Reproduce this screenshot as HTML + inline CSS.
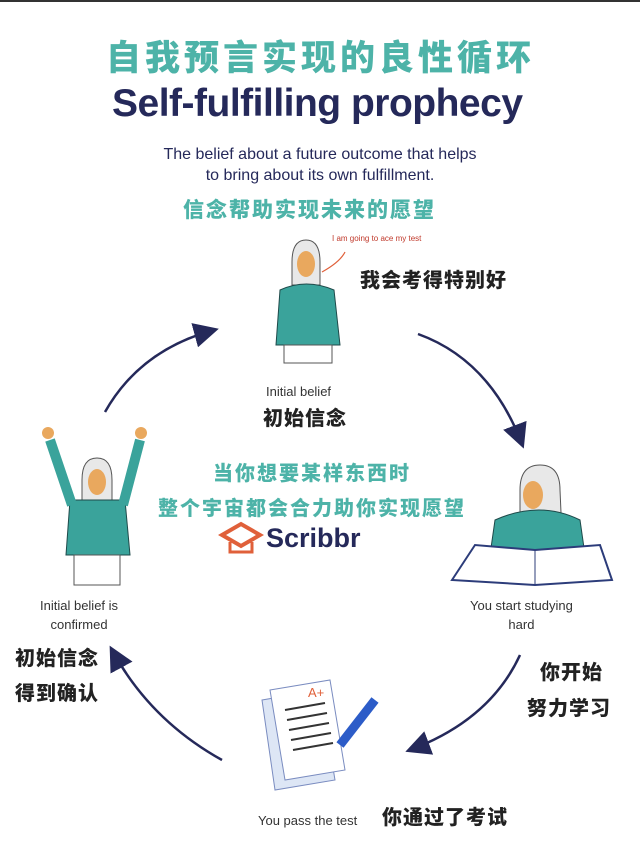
<!DOCTYPE html>
<html><head><meta charset="utf-8"><style>
body{margin:0;width:640px;height:844px;background:#fff;position:relative;overflow:hidden;font-family:"Liberation Sans","Noto Sans CJK SC",sans-serif}
.t{position:absolute;white-space:nowrap}
.cn{font-family:"Liberation Sans","Noto Sans CJK SC",sans-serif;font-weight:900}
.teal{color:#4db3a8}
.dk{color:#222}
.nv{color:#25295a}
.sm{font-size:13px;color:#333;text-align:center}
</style></head><body>
<div style="position:absolute;left:0;top:0;width:640px;height:2px;background:#333"></div>
<div class="t cn teal" style="left:106px;top:30px;font-size:35px;letter-spacing:4px">自我预言实现的良性循环</div>
<div class="t nv" style="left:112px;top:82px;font-size:39px;font-weight:bold;letter-spacing:-0.5px">Self-fulfilling prophecy</div>
<div class="t nv" style="left:0;width:640px;text-align:center;top:144px;font-size:16px;line-height:21px">The belief about a future outcome that helps<br>to bring about its own fulfillment.</div>
<div class="t cn teal" style="left:183px;top:194px;font-size:21px;letter-spacing:2px">信念帮助实现未来的愿望</div>

<svg width="640" height="844" style="position:absolute;left:0;top:0">
<defs><marker id="a" markerWidth="10" markerHeight="10" refX="8" refY="5" orient="auto"><path d="M0,0 L10,5 L0,10 z" fill="#25295a"/></marker></defs>
<g fill="none" stroke="#25295a" stroke-width="2.5" marker-end="url(#a)">
<path d="M105,412 Q140,350 214,330"/>
<path d="M418,334 Q490,360 522,444"/>
<path d="M520,655 Q490,720 410,750"/>
<path d="M222,760 Q150,720 112,650"/>
</g>
<path d="M322,272 Q340,262 345,252" stroke="#e0603a" fill="none" stroke-width="1.2"/>
<path d="M292,262 Q292,240 306,240 Q320,240 320,262 L320,285 L292,285z" fill="#e8e8e8" stroke="#555"/>
<ellipse cx="306" cy="264" rx="9" ry="13" fill="#e9a85e"/>
<path d="M280,290 Q306,278 334,290 L340,345 L276,345z" fill="#3aa39b" stroke="#1f4a4a"/>
<rect x="284" y="345" width="48" height="18" fill="#fff" stroke="#555"/>
<path d="M82,480 Q82,458 97,458 Q112,458 112,480 L112,500 L82,500z" fill="#e8e8e8" stroke="#555"/>
<ellipse cx="97" cy="482" rx="9" ry="13" fill="#e9a85e"/>
<path d="M70,500 L125,500 L130,555 L66,555z" fill="#3aa39b" stroke="#1f4a4a"/>
<path d="M72,505 L50,440 M123,505 L140,440" stroke="#3aa39b" stroke-width="10"/>
<circle cx="48" cy="433" r="6" fill="#e9a85e"/><circle cx="141" cy="433" r="6" fill="#e9a85e"/>
<rect x="74" y="555" width="46" height="30" fill="#fff" stroke="#555"/>
<path d="M520,490 Q520,465 540,465 Q560,465 560,490 L562,535 L520,530z" fill="#e8e8e8" stroke="#555"/>
<ellipse cx="533" cy="495" rx="10" ry="14" fill="#e9a85e"/>
<path d="M495,520 Q540,500 580,520 L585,555 L490,555z" fill="#3aa39b" stroke="#1f4a4a"/>
<path d="M452,580 L475,545 L535,550 L600,545 L612,580 L535,585z" fill="#fff" stroke="#2c3c7a" stroke-width="2"/>
<path d="M535,550 L535,585" stroke="#2c3c7a"/>
<path d="M262,700 L320,690 L335,780 L275,790z" fill="#dde6f5" stroke="#7a8cc0"/>
<path d="M270,690 L330,680 L345,770 L285,780z" fill="#fff" stroke="#7a8cc0"/>
<g stroke="#333" stroke-width="2"><path d="M285,710 L325,703 M287,720 L327,713 M289,730 L329,723 M291,740 L331,733 M293,750 L333,743"/></g>
<text x="308" y="697" fill="#e0603a" font-size="13" font-family="Liberation Sans">A+</text>
<path d="M340,745 L375,700" stroke="#2c5cc8" stroke-width="9"/>
<path d="M222,535 L241,524 L260,535 L241,546z" fill="none" stroke="#e0603a" stroke-width="4"/>
<path d="M230,542 L230,552 L252,552 L252,542" fill="none" stroke="#e0603a" stroke-width="3"/>
</svg>
<div class="t" style="left:332px;top:234px;font-size:8px;color:#c0392b">I am going to ace my test</div>
<div class="t cn dk" style="left:360px;top:264px;font-size:20px;letter-spacing:1px">我会考得特别好</div>
<div class="t sm" style="left:266px;top:384px">Initial belief</div>
<div class="t cn dk" style="left:263px;top:402px;font-size:20px;letter-spacing:1px">初始信念</div>
<div class="t cn teal" style="left:213px;top:457px;font-size:20px;letter-spacing:2px">当你想要某样东西时</div>
<div class="t cn teal" style="left:158px;top:492px;font-size:20px;letter-spacing:2px">整个宇宙都会合力助你实现愿望</div>
<div class="t nv" style="left:266px;top:523px;font-size:27px;font-weight:bold">Scribbr</div>
<div class="t sm" style="left:40px;top:596px;line-height:19px">Initial belief is<br>confirmed</div>
<div class="t cn dk" style="left:15px;top:642px;font-size:20px;line-height:35px;letter-spacing:1px">初始信念<br>得到确认</div>
<div class="t sm" style="left:470px;top:596px;line-height:19px">You start studying<br>hard</div>
<div class="t cn dk" style="left:540px;top:656px;font-size:20px;letter-spacing:1px">你开始</div>
<div class="t cn dk" style="left:527px;top:692px;font-size:20px;letter-spacing:1px">努力学习</div>
<div class="t sm" style="left:258px;top:813px">You pass the test</div>
<div class="t cn dk" style="left:382px;top:801px;font-size:20px;letter-spacing:1px">你通过了考试</div>
</body></html>
